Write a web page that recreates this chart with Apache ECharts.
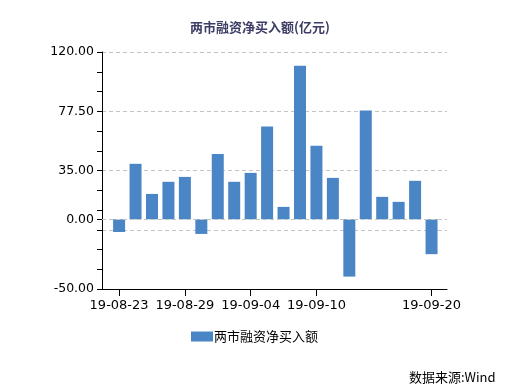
<!DOCTYPE html>
<html>
<head>
<meta charset="utf-8">
<script src="https://cdn.jsdelivr.net/npm/echarts@6/dist/echarts.min.js"></script>
<style>
html,body{margin:0;padding:0;background:#fff;}
#chart{width:520px;height:391px;}
</style>
</head>
<body>
<div id="chart"></div>
<script>
var titleText = '两市融资净买入额(亿元)';
var seriesName = '两市融资净买入额';
var sourceText = '数据来源:Wind';
var dates = ['19-08-23','19-08-26','19-08-27','19-08-28','19-08-29','19-08-30',
             '19-09-02','19-09-03','19-09-04','19-09-05','19-09-06',
             '19-09-09','19-09-10','19-09-11','19-09-12',
             '19-09-16','19-09-17','19-09-18','19-09-19','19-09-20'];
var values = [-9.1, 39.8, 18.2, 26.9, 30.4, -10.5, 46.9, 26.9, 33.3, 66.5,
              8.9, 110.1, 52.7, 29.7, -41.1, 78.0, 16.1, 12.5, 27.6, -25.0];
var yTickLabels = [-50, 0, 35, 77.5, 120];
var yTickMarks = [-50, -7.5, 0, 35, 77.5, 120];
var xLabelIndex = [0, 4, 8, 12, 19];

var chart = echarts.init(document.getElementById('chart'), null, {renderer:'canvas'});
var barData = values.map(function(v, i){ return [i, v]; });
var gridDash = {color:'#c4c4c4', type:[4,3], width:1};

chart.setOption({
  animation:false,
  title:{
    text:titleText, left:'center', top:16,
    textStyle:{fontFamily:'Noto Sans CJK SC', fontSize:13, fontWeight:'bold', color:'#3d3d66'}
  },
  grid:{left:102, right:73, top:52, bottom:102, containLabel:false},
  legend:{
    left:186, top:325, itemWidth:22, itemHeight:10, itemGap:10,
    icon:'rect',
    textStyle:{fontFamily:'Noto Sans CJK SC', fontSize:13, color:'#000', padding:[0,0,0,-4]},
    data:[seriesName]
  },
  xAxis:{
    type:'value', min:-1.04, max:19.94,
    axisLine:{show:true, onZero:false, lineStyle:{color:'#000', width:1}},
    axisTick:{show:true, length:7, customValues:xLabelIndex, lineStyle:{color:'#000'}},
    axisLabel:{customValues:xLabelIndex, margin:10, fontFamily:'DejaVu Sans', fontSize:13, color:'#000',
      formatter:function(v){ return dates[Math.round(v)]; }},
    splitLine:{show:false}
  },
  yAxis:{
    type:'value', min:-50, max:120, interval:42.5,
    axisLine:{show:true, onZero:false, lineStyle:{color:'#000', width:1}},
    axisTick:{show:true, length:5, customValues:yTickMarks, lineStyle:{color:'#000'}},
    minorTick:{show:true, splitNumber:3, length:5, lineStyle:{color:'#000'}},
    axisLabel:{customValues:yTickLabels, margin:8, fontFamily:'DejaVu Sans', fontSize:12.5, color:'#000',
      formatter:function(v){ return v.toFixed(2); }},
    splitLine:{show:true, lineStyle:gridDash}
  },
  series:[{
    name:seriesName, type:'bar', barWidth:12,
    itemStyle:{color:'#4a86c5'},
    data:barData,
    markLine:{
      silent:true, symbol:['none','none'], label:{show:false},
      lineStyle:gridDash, emphasis:{disabled:true},
      data:[{yAxis:0}]
    }
  }],
  graphic:[{
    type:'text', left:409, top:371,
    style:{text:sourceText, font:'13px "Noto Sans CJK SC"', fill:'#000'}
  }]
});
</script>
</body>
</html>
